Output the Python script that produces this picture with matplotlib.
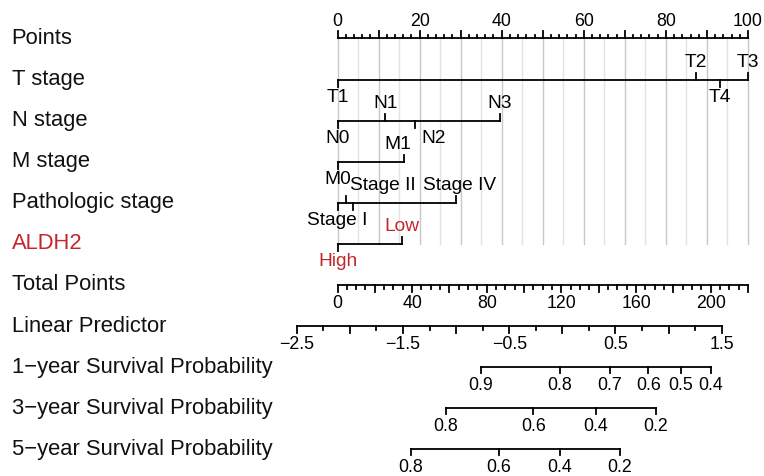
import numpy as np
import matplotlib
matplotlib.use("Agg")
import matplotlib.pyplot as plt

plt.rcParams['font.family'] = ['Liberation Sans', 'DejaVu Sans']

# row titles, top to bottom
row_names = ["Points", "T stage", "N stage", "M stage", "Pathologic stage", "ALDH2",
             "Total Points", "Linear Predictor",
             "1\u2212year Survival Probability",
             "3\u2212year Survival Probability",
             "5\u2212year Survival Probability"]

# covariate levels and their points (0-100 scale)
t_levels = ["T1", "T2", "T3", "T4"]
t_points = [0, 87.3, 100, 93.2]
n_levels = ["N0", "N1", "N2", "N3"]
n_points = [0, 11.6, 19.0, 39.6]
m_levels = ["M0", "M1"]
m_points = [0, 16.2]
path_levels = ["Stage I", "Stage II", "Stage III", "Stage IV"]
path_points = [0, 2.1, 3.7, 28.8]
path_shown = ["Stage I", "Stage II", "", "Stage IV"]   # Stage III label is hidden in the figure
aldh2_levels = ["High", "Low"]
aldh2_points = [0, 15.8]

# total points / linear predictor scales
total_max = 220
total_labels = [0, 40, 80, 120, 160, 200]
lp_min, lp_max = -2.5, 1.5
lp_labels = [-2.5, -1.5, -0.5, 0.5, 1.5]
lp_at_total0 = -2.116
total_per_lp = 56.94

# survival probabilities and the linear predictor where they sit
surv1_prob = [0.9, 0.8, 0.7, 0.6, 0.5, 0.4]
surv1_lp = [-0.768, -0.022, 0.449, 0.809, 1.117, 1.396]
surv3_prob = [0.8, 0.6, 0.4, 0.2]
surv3_lp = [-1.098, -0.273, 0.314, 0.882]
surv5_prob = [0.8, 0.6, 0.4, 0.2]
surv5_lp = [-1.427, -0.599, -0.022, 0.543]

RED = "#c1272d"
LW = 1.3
F_ROW, F_LEV, F_TICK = 15.8, 13.8, 12.8


def total_to_pts(tp):
    return np.asarray(tp) / total_max * 100


def lp_to_pts(lp):
    return total_to_pts((np.asarray(lp) - lp_at_total0) * total_per_lp)


def fmt(v):
    s = ("%g" % v)
    return s.replace("-", "\u2212")


fig = plt.figure(figsize=(7.64, 4.76), dpi=100)
ax = fig.add_axes([0, 0, 1, 1])
# x in points units, y in pixel rows
px0, pscale = 337.5, 4.105
ax.set_xlim(-px0 / pscale, (764 - px0) / pscale)
ax.set_ylim(476, 0)
ax.axis("off")

ys = 38.4 + 41.1 * np.arange(len(row_names))

for i, name in enumerate(row_names):
    ax.text(-px0 / pscale + 11.5 / pscale, ys[i], name, fontsize=F_ROW, va="center", ha="left",
            color=RED if name == "ALDH2" else "#111111")


def hline(y, x0, x1):
    ax.plot([x0, x1], [y, y], color="black", lw=LW, solid_capstyle="projecting", zorder=3)


def vtick(x, y, length):
    ax.plot([x, x], [y, y + length], color="black", lw=LW, zorder=3)


# grid
for p in range(0, 101, 5):
    c = "#c8c8c8" if p % 10 == 0 else "#e3e3e3"
    ax.plot([p, p], [ys[0], ys[5]], color=c, lw=1.0, zorder=1)

# Points axis
hline(ys[0], 0, 100)
for p in range(0, 101, 2):
    vtick(p, ys[0], -7 if p % 10 == 0 else -3.5)
for p in range(0, 101, 20):
    ax.text(p, ys[0] - 17, str(p), fontsize=F_TICK, ha="center", va="center")


def cat_row(y, levels, pts, shown=None, color="black", offsets=None):
    shown = shown or levels
    offsets = offsets or {}
    order = np.argsort(pts)
    hline(y, min(pts), max(pts))
    for k, j in enumerate(order):
        up = k % 2 == 1
        vtick(pts[j], y, -7 if up else 7)
        if shown[j]:
            dx = offsets.get(levels[j], 0) / pscale
            ax.text(pts[j] + dx, y + (-17 if up else 17.5), shown[j], fontsize=F_LEV,
                    ha="center", va="center", color=color)


cat_row(ys[1], t_levels, t_points)
cat_row(ys[2], n_levels, n_points, offsets={"N2": 18})
cat_row(ys[3], m_levels, m_points, offsets={"M1": -6})
cat_row(ys[4], path_levels, path_points, shown=path_shown,
        offsets={"Stage II": 37, "Stage IV": 4})
cat_row(ys[5], aldh2_levels, aldh2_points, color=RED)

# Total points
hline(ys[6], 0, 100)
for tp in range(0, total_max + 1, 5):
    vtick(total_to_pts(tp), ys[6], 7 if tp % 20 == 0 else 3.5)
for tp in total_labels:
    ax.text(total_to_pts(tp), ys[6] + 18, str(tp), fontsize=F_TICK, ha="center", va="center")

# Linear predictor
hline(ys[7], lp_to_pts(lp_min), lp_to_pts(lp_max))
for lp in np.arange(lp_min, lp_max + 0.01, 0.25):
    vtick(lp_to_pts(lp), ys[7], 7 if abs(lp * 2 - round(lp * 2)) < 1e-6 else 3.5)
for lp in lp_labels:
    ax.text(lp_to_pts(lp), ys[7] + 18, fmt(lp), fontsize=F_TICK, ha="center", va="center")

# survival rows
for y, probs, lps in [(ys[8], surv1_prob, surv1_lp), (ys[9], surv3_prob, surv3_lp),
                      (ys[10], surv5_prob, surv5_lp)]:
    xs = lp_to_pts(lps)
    hline(y, xs.min(), xs.max())
    for x, pr in zip(xs, probs):
        vtick(x, y, 6)
        ax.text(x, y + 18, "%g" % pr, fontsize=F_TICK, ha="center", va="center")

fig.savefig("out.png", dpi=100)
